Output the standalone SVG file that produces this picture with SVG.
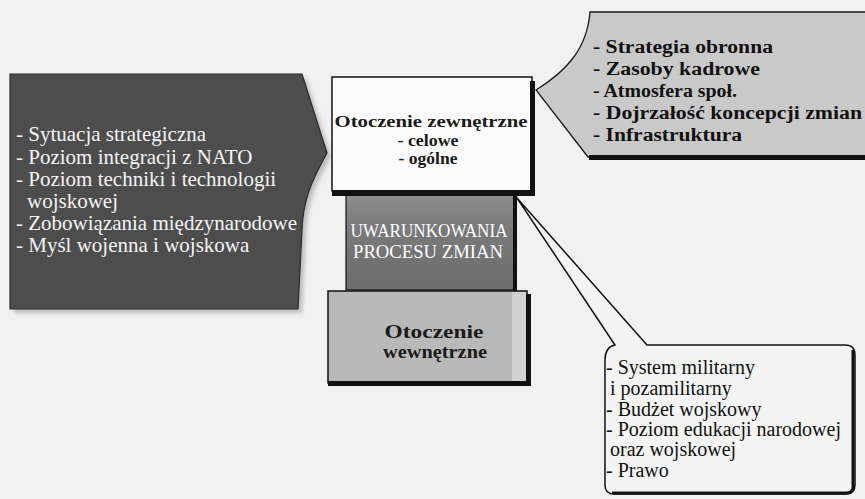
<svg xmlns="http://www.w3.org/2000/svg" width="865" height="499" viewBox="0 0 865 499">
  <style>
    text { font-family: "Liberation Serif", "Times New Roman", serif; }
    .list-white { font-size: 21px; fill: #f4f4f4; }
    .list-bold { font-size: 18px; font-weight: bold; fill: #111; }
    .list-plain { font-size: 20px; fill: #111; }
    .title-bold { font-size: 19px; font-weight: bold; fill: #1a1a1a; }
    .title-small { font-size: 16px; font-weight: bold; fill: #1a1a1a; }
    .title-white { font-size: 18px; fill: #ffffff; }
    .edge { stroke: #111; stroke-width: 1.5; }
    .shade { fill: #111; }
  </style>
  <defs>
    <linearGradient id="coreFill" x1="0" y1="0" x2="0" y2="1">
      <stop offset="0" stop-color="#8c8c8c"/>
      <stop offset="0.35" stop-color="#7a7a7a"/>
      <stop offset="1" stop-color="#6c6c6c"/>
    </linearGradient>
    <filter id="soft" x="-5%" y="-5%" width="110%" height="110%">
      <feGaussianBlur stdDeviation="2"/>
    </filter>
  </defs>

  <!-- page -->
  <rect width="865" height="499" fill="#f1f1f1"/>

  <!-- external factors callout (left) -->
  <g id="external-factors">
    <path d="M14,78 L306,78 L331,157 C316,184 307,204 306,234 L302,313 L14,313 Z" fill="#9a9a9a" opacity="0.6" filter="url(#soft)"/>
    <path d="M10,74 L302,74 L327,153 C312,180 303,200 302,230 L298,309 L10,309 Z" fill="#4d4d4d" stroke="#2a2a2a" stroke-width="1.2"/>
    <g class="list-white">
      <text x="16" y="141">- Sytuacja strategiczna</text>
      <text x="16" y="163.5">- Poziom integracji z NATO</text>
      <text x="16" y="186">- Poziom techniki i technologii</text>
      <text x="27" y="208">wojskowej</text>
      <text x="16" y="230">- Zobowiązania międzynarodowe</text>
      <text x="16" y="252">- Myśl wojenna i wojskowa</text>
    </g>
  </g>

  <!-- internal resources callout (top right) -->
  <g id="internal-resources">
    <path d="M590,12 L870,12 L870,157 L588,157 L536,90 C565,72 587,50 590,12 Z" fill="#c9c9c9" stroke="#1a1a1a" stroke-width="1.3"/>
    <rect x="589" y="155" width="280" height="5" class="shade"/>
    <g class="list-bold">
      <text x="593" y="53" textLength="180" lengthAdjust="spacingAndGlyphs">- Strategia obronna</text>
      <text x="593" y="75" textLength="167" lengthAdjust="spacingAndGlyphs">- Zasoby kadrowe</text>
      <text x="593" y="97" textLength="144" lengthAdjust="spacingAndGlyphs">- Atmosfera społ.</text>
      <text x="593" y="119" textLength="269" lengthAdjust="spacingAndGlyphs">- Dojrzałość koncepcji zmian</text>
      <text x="593" y="141" textLength="149" lengthAdjust="spacingAndGlyphs">- Infrastruktura</text>
    </g>
  </g>

  <!-- core: conditions of the change process -->
  <g id="change-conditions">
    <rect x="346" y="194" width="169" height="96" fill="url(#coreFill)" stroke="#111" stroke-width="1.2"/>
    <rect x="513" y="194" width="4" height="97" class="shade"/>
    <g class="title-white" text-anchor="middle">
      <text x="429" y="237" textLength="157" lengthAdjust="spacingAndGlyphs">UWARUNKOWANIA</text>
      <text x="428" y="258" textLength="150" lengthAdjust="spacingAndGlyphs">PROCESU ZMIAN</text>
    </g>
  </g>

  <!-- external environment box -->
  <g id="external-environment">
    <rect x="332" y="77" width="200" height="114" fill="#fbfbfb" class="edge"/>
    <rect x="530" y="81" width="5" height="115" class="shade"/>
    <rect x="332" y="190" width="203" height="6" class="shade"/>
    <g class="title-small" text-anchor="middle">
      <text x="431" y="127" textLength="193" lengthAdjust="spacingAndGlyphs">Otoczenie zewnętrzne</text>
      <text x="428" y="145.5" textLength="61" lengthAdjust="spacingAndGlyphs">- celowe</text>
      <text x="428" y="164" textLength="59" lengthAdjust="spacingAndGlyphs">- ogólne</text>
    </g>
  </g>

  <!-- internal environment box -->
  <g id="internal-environment">
    <rect x="328" y="291" width="199" height="92" fill="#b9b9b9" class="edge"/>
    <rect x="512" y="292" width="14" height="90" fill="#d2d2d2"/>
    <rect x="526" y="294" width="5" height="92" class="shade"/>
    <rect x="328" y="381" width="203" height="5" class="shade"/>
    <g class="title-bold" text-anchor="middle">
      <text x="434" y="338" textLength="99" lengthAdjust="spacingAndGlyphs">Otoczenie</text>
      <text x="435" y="358" textLength="104" lengthAdjust="spacingAndGlyphs">wewnętrzne</text>
    </g>
  </g>

  <!-- internal conditions callout (bottom right) with its pointer -->
  <g id="internal-conditions">
    <path d="M517,198 L647,345 L845,345 Q855,345 855,355 L855,485 Q855,494 846,494 L614,494 Q605,494 605,485 L605,360 Q605,347 615,345 Z" fill="#f4f4f4" stroke="#111" stroke-width="1.5" stroke-linejoin="round"/>
    <path d="M853,350 L853,487 Q853,493 846,493 L612,493" fill="none" stroke="#111" stroke-width="3"/>
    <g class="list-plain">
      <text x="606" y="374">- System militarny</text>
      <text x="610" y="395">i pozamilitarny</text>
      <text x="606" y="416">- Budżet wojskowy</text>
      <text x="606" y="436">- Poziom edukacji narodowej</text>
      <text x="610" y="456">oraz wojskowej</text>
      <text x="606" y="477">- Prawo</text>
    </g>
  </g>

  <!-- connectors: the parts are linked by callout pointers only -->
  <g id="connectors"/>
</svg>
